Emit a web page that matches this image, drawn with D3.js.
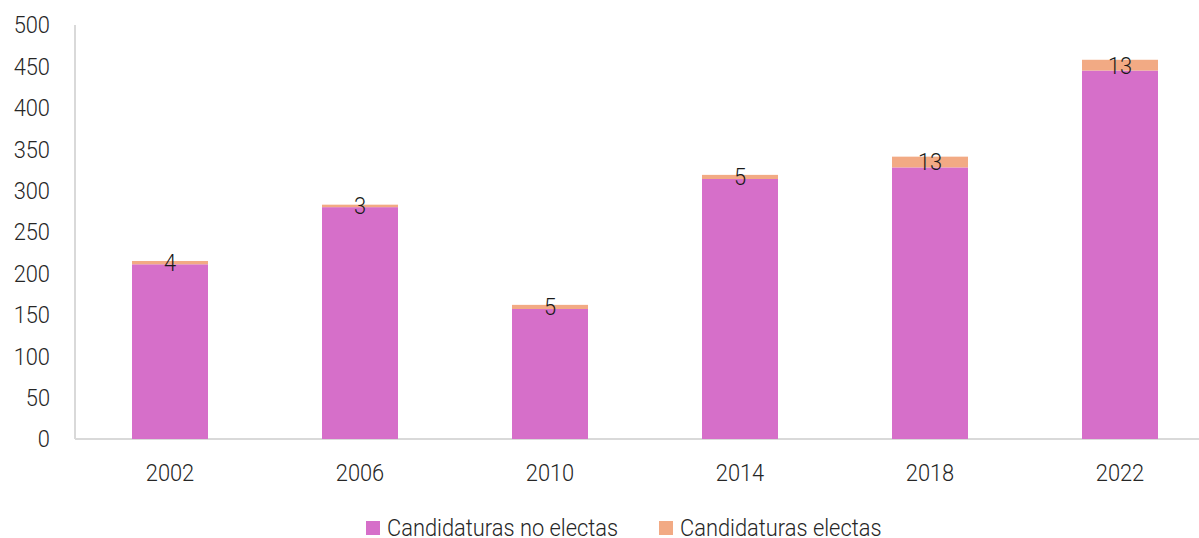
<!DOCTYPE html>
<html>
<head>
<meta charset="utf-8">
<script src="https://cdn.jsdelivr.net/npm/d3@7"></script>
<style>
  body { margin: 0; background: #fff; }
  svg { font-family: Roboto, "Noto Sans", sans-serif; font-weight: 300; }
</style>
</head>
<body>
<svg></svg>
<script>
const width = 1199;
const height = 538;

const years = ['2002', '2006', '2010', '2014', '2018', '2022'];
const noElectas = [211, 280, 157, 314, 328, 445];
const electas = [4, 3, 5, 5, 13, 13];
const yTicks = [0, 50, 100, 150, 200, 250, 300, 350, 400, 450, 500];
const seriesNames = ['Candidaturas no electas', 'Candidaturas electas'];
const colors = ['#d66fc9', '#f2aa84'];

// text is a bit condensed in the original
const squeeze = 0.93;
const fontSize = '23.5px';

const svg = d3.select('svg').attr('width', width).attr('height', height);

const x = d3.scaleBand().domain(years).range([75, 1215]).paddingInner(0.6).paddingOuter(0.3);
const y = d3.scaleLinear().domain([0, 500]).range([439, 25]);

const rows = years.map((yr, i) => ({ year: yr, no: noElectas[i], si: electas[i] }));
const stack = d3.stack().keys(['no', 'si'])(rows);

function place(sel, fx, fy) {
  sel.attr('transform', (d, i) => `translate(${fx(d, i)},${fy(d, i)}) scale(${squeeze},1)`);
}

// axes lines
svg.append('line')
    .attr('x1', 75).attr('x2', 75)
    .attr('y1', y(500)).attr('y2', y(0))
    .style('stroke', '#d9d9d9').style('stroke-width', 2);
svg.append('line')
    .attr('x1', 75).attr('x2', width)
    .attr('y1', y(0)).attr('y2', y(0))
    .style('stroke', '#d9d9d9').style('stroke-width', 2);

// y tick labels
svg.append('g').selectAll('text')
    .data(yTicks)
    .enter().append('text')
    .call(place, () => 50, d => y(d))
    .attr('dy', '0.36em')
    .attr('text-anchor', 'end')
    .style('font-size', fontSize)
    .style('fill', '#262626')
    .text(d => d);

// x labels
svg.append('g').selectAll('text')
    .data(years)
    .enter().append('text')
    .call(place, d => x(d) + x.bandwidth() / 2, () => 473)
    .attr('dy', '0.36em')
    .attr('text-anchor', 'middle')
    .style('font-size', fontSize)
    .style('fill', '#262626')
    .text(d => d);

// bars
svg.append('g').selectAll('g')
    .data(stack)
    .enter().append('g')
    .style('fill', (d, i) => colors[i])
    .selectAll('rect')
    .data(d => d)
    .enter().append('rect')
    .attr('x', d => x(d.data.year))
    .attr('width', x.bandwidth())
    .attr('y', d => y(d[1]))
    .attr('height', d => y(d[0]) - y(d[1]));

// data labels on electas segment
svg.append('g').selectAll('text')
    .data(stack[1])
    .enter().append('text')
    .call(place, d => x(d.data.year) + x.bandwidth() / 2, d => y((d[0] + d[1]) / 2))
    .attr('dy', '0.36em')
    .attr('text-anchor', 'middle')
    .style('font-size', fontSize)
    .style('fill', '#1a1a1a')
    .text(d => d.data.si);

// legend
const legendX = [366, 659];
const legend = svg.append('g').selectAll('g')
    .data(seriesNames)
    .enter().append('g')
    .attr('transform', (d, i) => `translate(${legendX[i]},521)`);
legend.append('rect')
    .attr('width', 14).attr('height', 14)
    .style('fill', (d, i) => colors[i]);
legend.append('text')
    .call(place, () => 21, () => 7)
    .attr('dy', '0.36em')
    .style('font-size', fontSize)
    .style('fill', '#262626')
    .text(d => d);
</script>
</body>
</html>
